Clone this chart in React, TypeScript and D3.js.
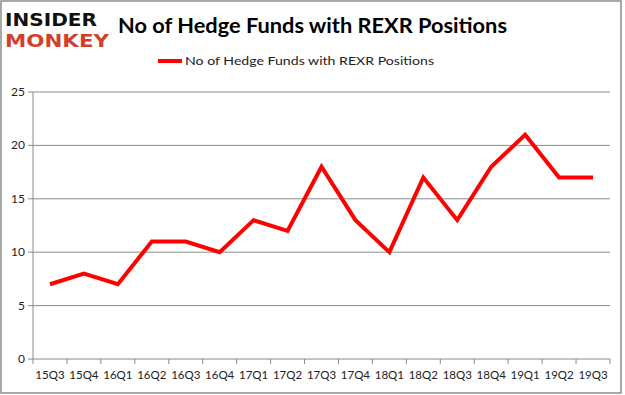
import React from 'react';
import * as d3 from 'd3';

const quarters = ['15Q3', '15Q4', '16Q1', '16Q2', '16Q3', '16Q4', '17Q1', '17Q2', '17Q3', '17Q4', '18Q1', '18Q2', '18Q3', '18Q4', '19Q1', '19Q2', '19Q3'];
const fundCounts = [7, 8, 7, 11, 11, 10, 13, 12, 18, 13, 10, 17, 13, 18, 21, 17, 17];
const yTicks = [0, 5, 10, 15, 20, 25];
const seriesName = 'No of Hedge Funds with REXR Positions';

const App = () => {
  const width = 625;
  const height = 395;
  const left = 33;
  const right = 610;
  const top = 92;
  const bottom = 359;

  const x = d3.scaleBand().domain(quarters).range([left, right]);
  const y = d3.scaleLinear().domain([0, 25]).range([bottom, top]);

  const line = d3
    .line<number>()
    .x((d, i) => (x(quarters[i]) || 0) + x.bandwidth() / 2)
    .y((d) => y(d));

  const font = 'Lato, "Open Sans", sans-serif';

  return (
    <svg width={width} height={height} style={{ position: 'absolute', left: 0, top: 0 }}>
      <rect x={0} y={0} width={width} height={height} fill="#fff" />
      <rect x={1} y={1} width={620} height={392} fill="none" stroke="#8c8c8c" strokeWidth={1.5} />

      {/* logo */}
      <text x={5} y={26} fontFamily="'DejaVu Sans'" fontWeight="bold" fontSize={18} textLength={92} lengthAdjust="spacingAndGlyphs" fill="#111">
        INSIDER
      </text>
      <text x={5} y={47} fontFamily="'DejaVu Sans'" fontWeight="bold" fontSize={18} textLength={104} lengthAdjust="spacingAndGlyphs" fill="#d2402c">
        MONKEY
      </text>

      <text x={118} y={33} fontFamily={font} fontWeight="bold" fontSize={21} textLength={389} lengthAdjust="spacingAndGlyphs" fill="#000">
        No of Hedge Funds with REXR Positions
      </text>

      {/* legend */}
      <line x1={158} x2={182} y1={61} y2={61} stroke="#ff0000" strokeWidth={4} />
      <text x={185} y={65} fontFamily={font} fontSize={12} textLength={249} lengthAdjust="spacingAndGlyphs" fill="#222">
        {seriesName}
      </text>

      {/* grid + y axis */}
      {yTicks.map((t) => (
        <g key={t}>
          <line x1={left} x2={right} y1={y(t)} y2={y(t)} stroke="#8a8a8a" strokeWidth={1} />
          <line x1={left - 5} x2={left} y1={y(t)} y2={y(t)} stroke="#8a8a8a" />
          <text x={left - 8} y={y(t) + 4} textAnchor="end" fontFamily={font} fontSize={12} fill="#222">
            {t}
          </text>
        </g>
      ))}
      <line x1={left} x2={left} y1={top} y2={bottom} stroke="#8a8a8a" />

      {/* x axis ticks */}
      {quarters.map((q) => (
        <g key={q}>
          <line x1={x(q) || 0} x2={x(q) || 0} y1={bottom} y2={bottom + 5} stroke="#8a8a8a" />
          <text x={(x(q) || 0) + x.bandwidth() / 2} y={bottom + 20} textAnchor="middle" fontFamily={font} fontSize={11.5} fill="#222">
            {q}
          </text>
        </g>
      ))}
      <line x1={right} x2={right} y1={bottom} y2={bottom + 5} stroke="#8a8a8a" />

      <path d={line(fundCounts) || undefined} fill="none" stroke="#ff0000" strokeWidth={4} strokeLinejoin="miter" />
    </svg>
  );
};

export default App;
